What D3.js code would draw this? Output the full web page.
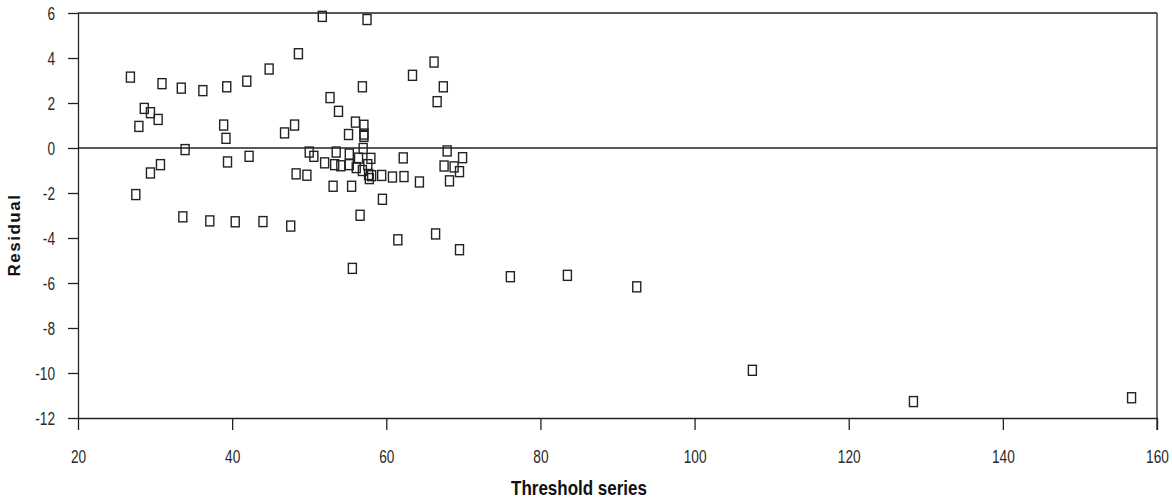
<!DOCTYPE html>
<html>
<head>
<meta charset="utf-8">
<script src="https://cdn.jsdelivr.net/npm/d3@7"></script>
<style>
  body { margin: 0; background: #fff; }
  svg { display: block; }
  .tick text { font-family: "Liberation Sans", Arial, sans-serif; font-size: 19px; fill: #2a2a2a; }
  .tick line, .domain { stroke: #222; stroke-width: 1.3px; }
</style>
</head>
<body>
<svg id="chart" width="1172" height="501"></svg>
<script>
const svg = d3.select("#chart");

// values
const thresholdSeries = [
    26.8, 30.9, 33.4, 36.2, 39.3, 41.9, 44.8, 48.6, 28.6, 29.4, 30.4, 27.9, 38.9, 39.2,
    46.8, 48.1, 33.9, 30.7, 29.4, 27.5, 39.4, 42.2, 48.3, 33.6, 37.1, 40.4, 44.0, 47.6,
    51.7, 57.5, 66.2, 63.4, 56.9, 67.4, 52.7, 66.6, 53.8, 56.0, 57.1, 55.1, 57.1, 57.1,
    57.0, 50.0, 50.6, 53.5, 55.2, 56.4, 58.0, 52.0, 53.3, 54.1, 55.2, 56.1, 57.6, 56.9,
    57.7, 57.8, 58.1, 59.4, 60.8, 62.3, 62.2, 64.3, 49.7, 53.1, 55.5, 59.5, 56.6, 55.6,
    61.5, 66.4, 69.5, 67.9, 69.9, 67.5, 68.8, 69.5, 68.2,
    76.1, 83.5, 92.5, 107.5, 128.4, 156.7
];
const residuals = [
    3.15, 2.86, 2.66, 2.55, 2.72, 2.97, 3.51, 4.19, 1.76, 1.57, 1.27, 0.96, 1.02, 0.43,
    0.67, 1.02, -0.07, -0.74, -1.11, -2.07, -0.62, -0.37, -1.15, -3.06, -3.24, -3.28, -3.27, -3.47,
    5.85, 5.71, 3.82, 3.23, 2.72, 2.72, 2.24, 2.06, 1.63, 1.15, 1.01, 0.60, 0.62, 0.52,
    -0.02, -0.18, -0.37, -0.18, -0.27, -0.45, -0.46, -0.66, -0.74, -0.79, -0.74, -0.87, -0.74, -1.0,
    -1.18, -1.36, -1.23, -1.22, -1.29, -1.27, -0.44, -1.51, -1.21, -1.70, -1.70, -2.28, -2.99, -5.35,
    -4.08, -3.82, -4.52, -0.13, -0.43, -0.80, -0.84, -1.05, -1.46,
    -5.72, -5.66, -6.17, -9.88, -11.27, -11.10
];
const xTicks = [20, 40, 60, 80, 100, 120, 140, 160];
const yTicks = [-12, -10, -8, -6, -4, -2, 0, 2, 4, 6];

const margin = { top: 13, right: 15, bottom: 83, left: 78 };
const width = 1172 - margin.left - margin.right;
const height = 501 - margin.top - margin.bottom;
const squeeze = 0.72; // narrow-looking labels

const x = d3.scaleLinear().domain([20, 160]).range([0, width]);
const y = d3.scaleLinear().domain([-12, 6]).range([height, 0]);

const g = svg.append("g").attr("transform", `translate(${margin.left},${margin.top})`);

// axes
g.append("g")
    .attr("transform", `translate(0,${height})`)
    .call(d3.axisBottom(x).tickValues(xTicks).tickFormat(d => String(d))
        .tickSize(12).tickPadding(20).tickSizeOuter(0))
    .selectAll("text")
    .attr("dy", "0.71em")
    .attr("transform", `scale(${squeeze},1)`);

g.append("g")
    .call(d3.axisLeft(y).tickValues(yTicks).tickFormat(d => String(d))
        .tickSize(10).tickPadding(12).tickSizeOuter(0))
    .selectAll("text")
    .attr("x", -23 / squeeze)
    .attr("transform", `scale(${squeeze},1)`);

// frame (top + right) and zero line
g.append("line").attr("x1", 0).attr("x2", width).attr("y1", y(6)).attr("y2", y(6))
    .attr("stroke", "#222").attr("stroke-width", 1.3);
g.append("line").attr("x1", width).attr("x2", width).attr("y1", 0).attr("y2", height + 12)
    .attr("stroke", "#222").attr("stroke-width", 1.3);
g.append("line").attr("x1", 0).attr("x2", width).attr("y1", y(0)).attr("y2", y(0))
    .attr("stroke", "#222").attr("stroke-width", 1.3);

// points as open squares
const pts = thresholdSeries.map((v, i) => ({ t: v, r: residuals[i] }));
g.selectAll("rect.pt")
    .data(pts)
    .join("rect")
    .attr("class", "pt")
    .attr("x", d => x(d.t) - 4)
    .attr("y", d => y(d.r) - 5)
    .attr("width", 8)
    .attr("height", 10)
    .attr("fill", "none")
    .attr("stroke", "#222")
    .attr("stroke-width", 1.4);

// axis titles
svg.append("text")
    .attr("transform", "translate(579,495) scale(0.85,1)")
    .attr("text-anchor", "middle")
    .style("font-family", "'Liberation Sans', Arial, sans-serif")
    .style("font-weight", "bold")
    .style("font-size", "20px")
    .attr("fill", "#111")
    .text("Threshold series");

svg.append("text")
    .attr("transform", "translate(20,235) rotate(-90)")
    .attr("text-anchor", "middle")
    .style("font-family", "'Liberation Sans', Arial, sans-serif")
    .style("font-weight", "bold")
    .style("font-size", "17px")
    .style("letter-spacing", "1.5px")
    .attr("fill", "#111")
    .text("Residual");
</script>
</body>
</html>
